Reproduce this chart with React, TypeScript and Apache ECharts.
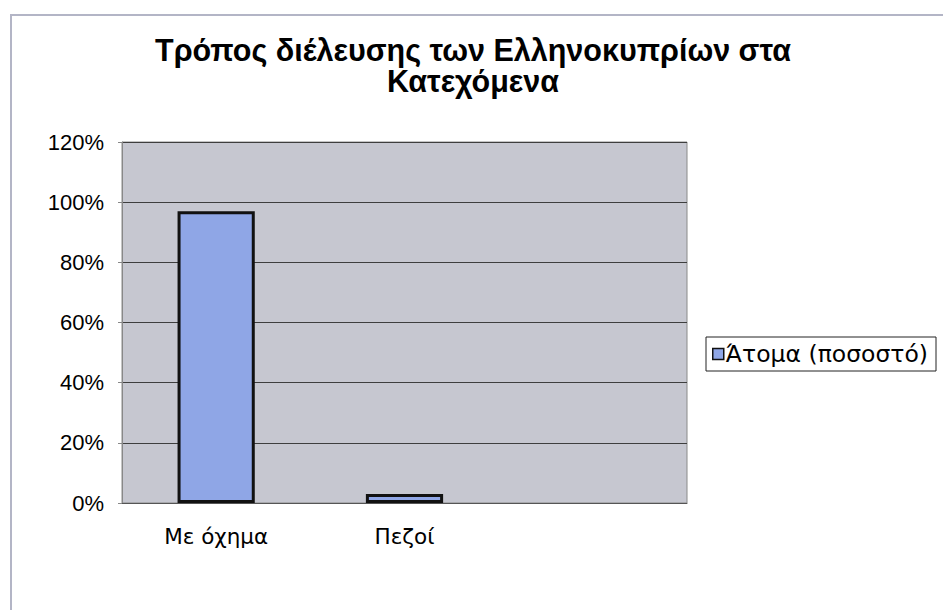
import React, { useEffect, useRef } from "react";
import * as echarts from "echarts";

const titleLines = ["Τρόπος διέλευσης των Ελληνοκυπρίων στα", "Κατεχόμενα"];
const categories = ["Με όχημα", "Πεζοί", ""];
const seriesName = "Άτομα (ποσοστό)";
const values: (number | null)[] = [0.97, 0.03, null];
const yTicks = [0, 0.2, 0.4, 0.6, 0.8, 1.0, 1.2];

export default function App() {
  const ref = useRef<HTMLDivElement>(null);
  useEffect(() => {
    if (!ref.current) return;
    const chart = echarts.init(ref.current, undefined, { renderer: "svg" });
    const font = "'Liberation Sans', Arial, sans-serif";
    const wide = "'DejaVu Sans', sans-serif";
    chart.setOption({
      animation: false,
      backgroundColor: "#ffffff",
      title: {
        text: titleLines.join("\n"),
        left: 468,
        textAlign: "center",
        top: 29,
        textStyle: {
          fontFamily: font,
          fontWeight: "bold",
          fontSize: 30.5,
          lineHeight: 31,
          color: "#000",
        },
      },
      legend: {
        left: 706,
        top: 337,
        orient: "vertical",
        borderColor: "#222",
        borderWidth: 1,
        padding: [5, 8, 5, 6],
        itemWidth: 11,
        itemHeight: 11,
        itemGap: 4,
        textStyle: { fontFamily: wide, fontSize: 23.5, color: "#000", padding: [0, 0, 0, -3] },
        data: [
          {
            name: seriesName,
            icon: "rect",
            itemStyle: { color: "#8fa6e6", borderColor: "#111", borderWidth: 1.5 },
          },
        ],
      },
      graphic: [
        {
          type: "polyline",
          shape: { points: [[11, 610], [11, 15], [943, 15]] },
          style: { stroke: "#b3b5c6", lineWidth: 2, fill: "none" },
          silent: true,
        },
      ],
      grid: {
        left: 122,
        right: 256,
        top: 142,
        bottom: 107,
        show: true,
        backgroundColor: "#c6c7d0",
        borderColor: "#8a8a8a",
        borderWidth: 1,
      },
      xAxis: {
        type: "category",
        data: categories,
        axisLine: { show: true, lineStyle: { color: "#555", width: 1 } },
        axisTick: { show: false },
        axisLabel: { fontFamily: wide, fontSize: 21.5, color: "#000", margin: 22 },
      },
      yAxis: {
        type: "value",
        min: yTicks[0],
        max: yTicks[yTicks.length - 1],
        interval: 0.2,
        axisLine: { show: true, lineStyle: { color: "#888", width: 1 } },
        axisTick: { show: true, length: 4, lineStyle: { color: "#888" } },
        splitLine: { show: true, lineStyle: { color: "#3e3e3e", width: 1 } },
        axisLabel: {
          fontFamily: font,
          fontSize: 22,
          color: "#000",
          margin: 18,
          formatter: (v: number) => Math.round(v * 100) + "%",
        },
      },
      series: [
        {
          name: seriesName,
          type: "bar",
          data: values,
          barWidth: "41%",
          itemStyle: { color: "#8fa6e6", borderColor: "#111", borderWidth: 3 },
        },
      ],
    });
    return () => chart.dispose();
  }, []);
  return (
    <div
      ref={ref}
      style={{ position: "absolute", left: 0, top: 0, width: 943, height: 610 }}
    />
  );
}
